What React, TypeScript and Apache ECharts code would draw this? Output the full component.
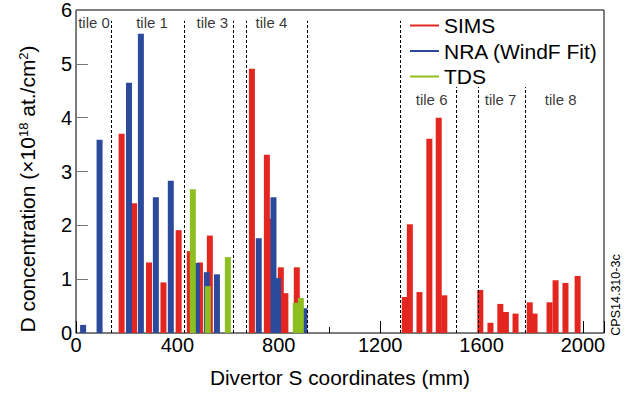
import React, { useEffect, useRef } from "react";
import * as echarts from "echarts";

// Divertor S coordinate (mm) and D concentration (1e18 at./cm2)
const simsX = [180, 229, 288, 345, 405, 449, 489, 528, 694, 753, 773, 808, 826, 871, 1297, 1317, 1355, 1394, 1431, 1453, 1595, 1635, 1674, 1696, 1734, 1790, 1809, 1868, 1892, 1931, 1979];
const simsY = [3.70, 2.41, 1.31, 0.94, 1.91, 1.52, 1.31, 1.81, 4.91, 3.31, 2.12, 1.22, 0.74, 1.22, 0.67, 2.02, 0.76, 3.61, 4.00, 0.70, 0.80, 0.19, 0.54, 0.39, 0.36, 0.57, 0.36, 0.57, 0.98, 0.93, 1.06];

const nraX = [28, 93, 209, 256, 315, 374, 477, 516, 556, 721, 779, 797, 901];
const nraY = [0.15, 3.59, 4.65, 5.56, 2.52, 2.83, 1.30, 1.13, 1.09, 1.76, 2.52, 1.02, 0.46];

const tdsX = [461, 520, 599, 867, 887];
const tdsY = [2.67, 0.87, 1.41, 0.56, 0.65];

// tile boundaries (mm) and the concentration where each dashed line starts
const boundaryX = [140, 426, 621, 670, 912, 1279, 1499, 1585, 1771];
const boundaryTop = [5.8, 5.8, 5.8, 5.8, 5.8, 5.8, 4.57, 4.57, 4.57];

const tileNames = ["tile 0", "tile 1", "tile 3", "tile 4", "tile 6", "tile 7", "tile 8"];
const tileX = [71, 300, 538, 771, 1403, 1675, 1912];
const tileY = [5.76, 5.76, 5.76, 5.76, 4.34, 4.34, 4.34];

const xTicks = [0, 400, 800, 1200, 1600, 2000];

const FONT = "'Liberation Sans', Arial, Helvetica, sans-serif";

export default function App() {
  const ref = useRef<HTMLDivElement>(null);
  useEffect(() => {
    if (!ref.current) return;
    const chart = echarts.init(ref.current, undefined, { renderer: "svg" });
    const pair = (xs: number[], ys: number[]) => xs.map((x, i) => [x, ys[i]]);
    const barCommon = {
      type: "bar",
      barWidth: 6,
      barGap: "-100%",
      silent: true,
    };
    chart.setOption({
      animation: false,
      textStyle: { fontFamily: FONT },
      grid: {
        left: 76,
        right: 24,
        top: 9,
        bottom: 61,
        show: true,
        borderColor: "#000",
        borderWidth: 1,
        backgroundColor: "transparent",
      },
      legend: {
        data: ["SIMS", "NRA (WindF Fit)", "TDS"],
        orient: "vertical",
        left: 410,
        top: 15,
        padding: 0,
        icon: "rect",
        itemWidth: 29,
        itemHeight: 2,
        itemGap: 4.5,
        textStyle: { fontSize: 21, color: "#000", fontFamily: FONT, lineHeight: 21 },
      },
      xAxis: {
        type: "value",
        min: 0,
        max: 2083,
        interval: 400,
        axisLine: { show: true, lineStyle: { color: "#777", width: 1 } },
        axisTick: { show: true, inside: true, length: 12, lineStyle: { color: "#000" } },
        minorTick: { show: true, splitNumber: 2, length: 6, lineStyle: { color: "#000" } },
        splitLine: { show: false },
        axisLabel: {
          fontSize: 20,
          color: "#000",
          margin: 2,
          showMaxLabel: false,
          formatter: (v: number) => (xTicks.indexOf(v) >= 0 ? String(v) : ""),
        },
        name: "Divertor S coordinates (mm)",
        nameLocation: "middle",
        nameGap: 34,
        nameTextStyle: { fontSize: 20.8, color: "#000" },
      },
      yAxis: {
        type: "value",
        min: 0,
        max: 6,
        interval: 1,
        axisLine: { show: true, lineStyle: { color: "#777", width: 1 } },
        axisTick: { show: true, inside: true, length: 12, lineStyle: { color: "#777" } },
        splitLine: { show: false },
        axisLabel: { fontSize: 20, color: "#000", margin: 4 },
      },
      graphic: [
        {
          type: "text",
          x: 27,
          y: 189,
          rotation: Math.PI / 2,
          silent: true,
          style: {
            text: "D concentration (×10{s|18} at./cm{s|2})",
            fontSize: 21,
            fontFamily: FONT,
            fill: "#000",
            align: "center",
            verticalAlign: "middle",
            rich: {
              s: { fontSize: 13, verticalAlign: "bottom", padding: [0, 0, 8, 0], fontFamily: FONT, fill: "#000" },
            },
          },
        },
        {
          type: "text",
          x: 616,
          y: 295,
          rotation: Math.PI / 2,
          silent: true,
          style: {
            text: "CPS14.310-3c",
            fontSize: 12.5,
            fontFamily: FONT,
            fill: "#000",
            align: "center",
            verticalAlign: "middle",
          },
        },
      ],
      series: [
        {
          ...barCommon,
          name: "SIMS",
          itemStyle: { color: "#E3261F" },
          data: pair(simsX, simsY),
          markLine: {
            silent: true,
            symbol: ["none", "none"],
            label: { show: false },
            lineStyle: { color: "#000", type: [3, 2], width: 1 },
            data: boundaryX.map((x, i) => [{ coord: [x, 0] }, { coord: [x, boundaryTop[i]] }]),
          },
        },
        {
          ...barCommon,
          name: "NRA (WindF Fit)",
          itemStyle: { color: "#2C4A9B" },
          data: pair(nraX, nraY),
        },
        {
          ...barCommon,
          name: "TDS",
          itemStyle: { color: "#8DBE22" },
          data: pair(tdsX, tdsY),
        },
        {
          type: "scatter",
          name: "tiles",
          symbolSize: 0,
          silent: true,
          label: {
            show: true,
            position: "inside",
            formatter: "{b}",
            fontSize: 15,
            color: "#000",
            fontFamily: FONT,
          },
          data: tileNames.map((n, i) => ({ name: n, value: [tileX[i], tileY[i]] })),
        },
      ],
    });
    return () => chart.dispose();
  }, []);
  return (
    <div
      ref={ref}
      style={{ position: "fixed", left: 0, top: 0, width: 628, height: 394, background: "#fff" }}
    />
  );
}
